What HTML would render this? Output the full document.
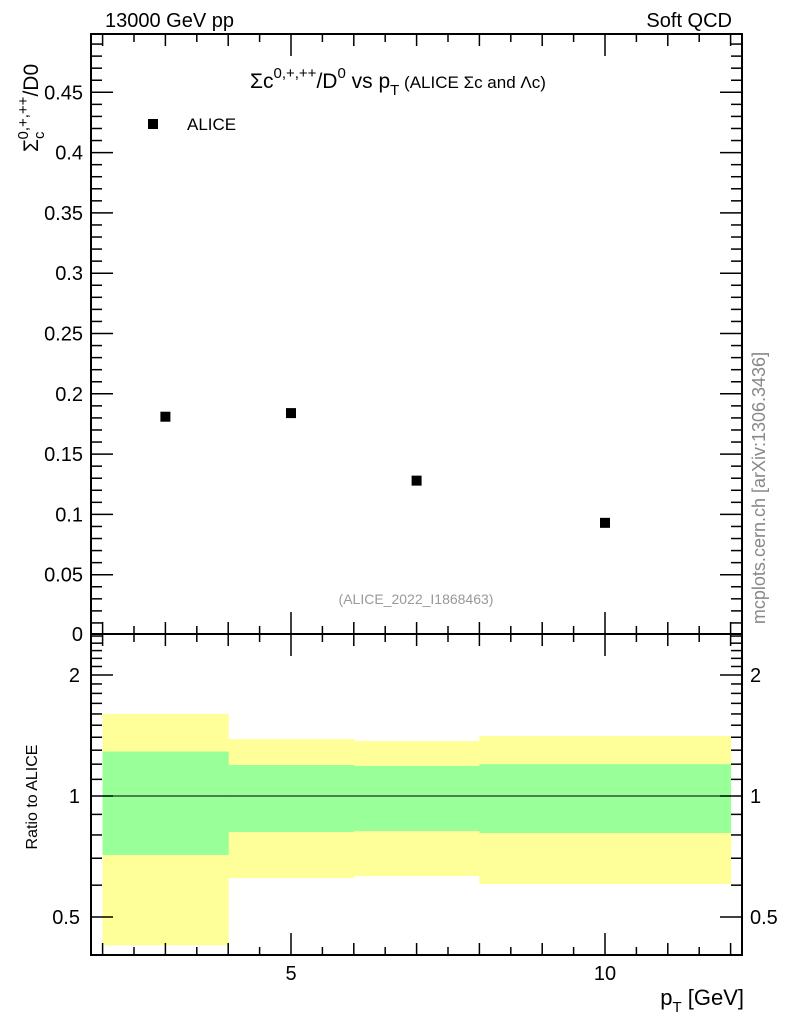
<!DOCTYPE html>
<html><head><meta charset="utf-8"><style>
body{margin:0;background:#fff}
svg text{font-family:"Liberation Sans",sans-serif}
</style></head><body>
<svg id="c" width="786" height="1024" xmlns="http://www.w3.org/2000/svg">
<g id="bands"></g>
<g id="marks"></g>
<g id="ticks"></g>
<rect x="91" y="34" width="651" height="600" fill="none" stroke="#000" stroke-width="2"/>
<rect x="91" y="634" width="651" height="321" fill="none" stroke="#000" stroke-width="2"/>
<text x="105" y="27" font-size="20">13000 GeV pp</text>
<text x="732" y="27" font-size="20" text-anchor="end">Soft QCD</text>
<text x="250" y="88" font-size="21">Σc<tspan dy="-10" font-size="15">0,+,++</tspan><tspan dy="10">/D</tspan><tspan dy="-10" font-size="15">0</tspan><tspan dy="10"> vs p</tspan><tspan dy="7" font-size="15">T</tspan><tspan dy="-7" font-size="17"> (ALICE Σc and Λc)</tspan></text>
<rect x="148" y="119" width="10" height="10" fill="#000"/>
<text x="187" y="130" font-size="17">ALICE</text>
<text x="416" y="604" font-size="14" fill="#999" text-anchor="middle">(ALICE_2022_I1868463)</text>
<text transform="translate(765,488) rotate(-90)" font-size="18" fill="#888" text-anchor="middle">mcplots.cern.ch [arXiv:1306.3436]</text>
<text transform="translate(38,152) rotate(-90)" font-size="21">Σ<tspan dy="6" font-size="15">c</tspan><tspan dy="-16" dx="-8" font-size="15">0,+,++</tspan><tspan dy="10">/D0</tspan></text>
<text transform="translate(37,797) rotate(-90)" font-size="16" text-anchor="middle">Ratio to ALICE</text>
<text x="744" y="1005" font-size="22" text-anchor="end">p<tspan dy="7" font-size="15">T</tspan><tspan dy="-7"> [GeV]</tspan></text>
</svg>
<script>
const xCats=[3,5,7,10];
const yVals=[0.181,0.184,0.128,0.093];
const binLo=[2,4,6,8];
const binHi=[4,6,8,12];
const yelLo=[0.425,0.625,0.632,0.604];
const yelHi=[1.60,1.386,1.37,1.41];
const grnLo=[0.713,0.814,0.818,0.809];
const grnHi=[1.29,1.194,1.188,1.20];
const yTicks=[0.05,0.1,0.15,0.2,0.25,0.3,0.35,0.4,0.45];
const yTickLabels=["0.05","0.1","0.15","0.2","0.25","0.3","0.35","0.4","0.45"];
const xTicks=[5,10];
const rTicks=[0.5,1,2];
const rTickLabels=["0.5","1","2"];
const NS="http://www.w3.org/2000/svg";
const X=v=>291+(v-5)*62.8;
const Y=v=>635-v*1206;
const R=v=>796-Math.log2(v)*121;
function mk(t,a,p){const e=document.createElementNS(NS,t);for(const k in a)e.setAttribute(k,a[k]);p.appendChild(e);return e;}
const B=document.getElementById('bands'),M=document.getElementById('marks'),T=document.getElementById('ticks');
for(let i=0;i<binLo.length;i++){
 let r=mk('rect',{x:X(binLo[i]),y:R(yelHi[i]),width:X(binHi[i])-X(binLo[i])+0.5,height:R(yelLo[i])-R(yelHi[i]),fill:'#ffff99'},B);
 
 
}
for(let i=0;i<binLo.length;i++){
 let g=mk('rect',{x:X(binLo[i]),y:R(grnHi[i]),width:X(binHi[i])-X(binLo[i])+0.5,height:R(grnLo[i])-R(grnHi[i]),fill:'#99ff99'},B);
 
 
}
let l=mk('line',{x1:91,x2:742,y1:R(1),y2:R(1),stroke:'#000','stroke-width':1},B);


for(let i=0;i<xCats.length;i++){
 let p=mk('rect',{x:X(xCats[i])-5,y:Y(yVals[i])-5,width:10,height:10,fill:'#000'},M);
 
 
}
const st={stroke:'#000','stroke-width':1.5};
for(let v=2;v<=12.01;v+=0.5){
 const maj=xTicks.includes(v), len=maj?22:(Number.isInteger(v)?12:8);
 for(const [yb,dir] of [[634,-1],[34,1],[955,-1],[634,1]]){
  mk('line',Object.assign({x1:X(v),x2:X(v),y1:yb,y2:yb+dir*len},st),T);
 }
}
for(let i=0;i<xTicks.length;i++){
 let t=mk('text',{x:X(xTicks[i]),y:980,'font-size':20,'text-anchor':'middle'},T);t.textContent=xTicks[i];
 
 
}
for(let k=1;k<=49;k++){
 const v=k/100, maj=k%5===0, len=maj?22:11;
 mk('line',Object.assign({x1:91,x2:91+len,y1:Y(v),y2:Y(v)},st),T);
 mk('line',Object.assign({x1:742,x2:742-len,y1:Y(v),y2:Y(v)},st),T);
}
for(let i=0;i<yTicks.length;i++){
 let t=mk('text',{x:83,y:Y(yTicks[i])+7,'font-size':20,'text-anchor':'end'},T);t.textContent=yTickLabels[i];
 
 
}
let z=mk('text',{x:83,y:641,'font-size':20,'text-anchor':'end'},T);z.textContent="0";
const rm=[0.5,0.6,0.7,0.8,0.9,1,1.1,1.2,1.3,1.4,1.5,1.6,1.7,1.8,1.9,2,2.1,2.2,2.3,2.4,2.5];
for(const v of rm){
 const maj=rTicks.includes(v), len=maj?22:11;
 mk('line',Object.assign({x1:91,x2:91+len,y1:R(v),y2:R(v)},st),T);
 mk('line',Object.assign({x1:742,x2:742-len,y1:R(v),y2:R(v)},st),T);
}
for(let i=0;i<rTicks.length;i++){
 let t=mk('text',{x:80,y:R(rTicks[i])+7,'font-size':20,'text-anchor':'end'},T);t.textContent=rTickLabels[i];
 
 
 let t2=mk('text',{x:750,y:R(rTicks[i])+7,'font-size':20},T);t2.textContent=rTickLabels[i];
 
 
}
</script>
</body></html>
